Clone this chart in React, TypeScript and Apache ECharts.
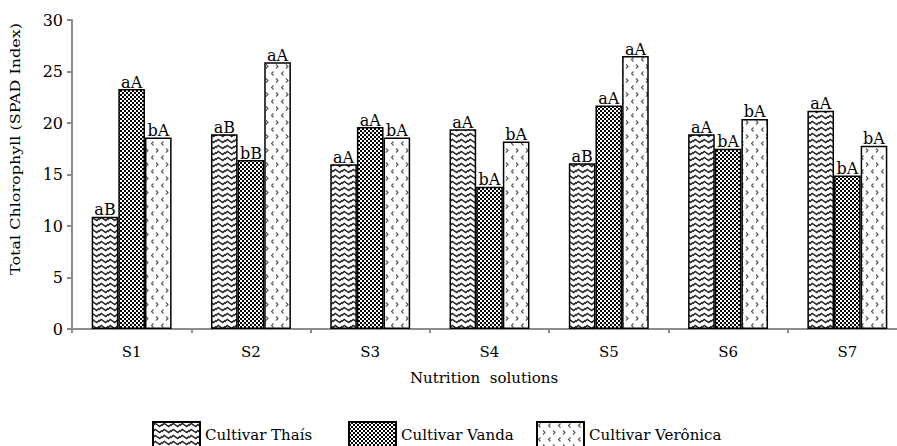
import React, { useEffect, useRef } from "react";
import * as echarts from "echarts";

const categories = ["S1", "S2", "S3", "S4", "S5", "S6", "S7"];
const seriesNames = ["Cultivar Thaís", "Cultivar Vanda", "Cultivar Verônica"];
const thais = [10.9, 18.9, 16.0, 19.4, 16.1, 18.9, 21.2];
const vanda = [23.3, 16.4, 19.6, 13.8, 21.7, 17.5, 14.9];
const veronica = [18.6, 25.9, 18.6, 18.2, 26.5, 20.4, 17.8];
const thaisLabels = ["aB", "aB", "aA", "aA", "aB", "aA", "aA"];
const vandaLabels = ["aA", "bB", "aA", "bA", "aA", "bA", "bA"];
const veronicaLabels = ["bA", "aA", "bA", "bA", "aA", "bA", "bA"];
const yTicks = [0, 5, 10, 15, 20, 25, 30];
const yTitle = "Total Chlorophyll (SPAD Index)";
const xTitle = "Nutrition  solutions";

const FONT = "DejaVu Serif";

function makeCanvas(w: number, h: number, draw: (ctx: CanvasRenderingContext2D) => void) {
  const c = document.createElement("canvas");
  c.width = w;
  c.height = h;
  const ctx = c.getContext("2d")!;
  draw(ctx);
  return c;
}

function wavePattern() {
  return makeCanvas(9, 6, (ctx) => {
    ctx.fillStyle = "#fff";
    ctx.fillRect(0, 0, 9, 6);
    ctx.strokeStyle = "#222";
    ctx.lineWidth = 1.4;
    ctx.beginPath();
    ctx.moveTo(-1, 4.5);
    ctx.lineTo(2.25, 1.5);
    ctx.lineTo(6.75, 4.5);
    ctx.lineTo(10, 1.5);
    ctx.stroke();
  });
}

function checkPattern() {
  return makeCanvas(4, 4, (ctx) => {
    ctx.fillStyle = "#000";
    ctx.fillRect(0, 0, 4, 4);
    ctx.fillStyle = "#fff";
    ctx.fillRect(0, 0, 2, 2);
    ctx.fillRect(2, 2, 2, 2);
  });
}

function chevronPattern() {
  return makeCanvas(10, 14, (ctx) => {
    ctx.fillStyle = "#fff";
    ctx.fillRect(0, 0, 10, 14);
    ctx.strokeStyle = "#555";
    ctx.lineWidth = 1.1;
    ctx.beginPath();
    ctx.moveTo(3.5, 1.5);
    ctx.lineTo(1.5, 3.5);
    ctx.lineTo(3.5, 5.5);
    ctx.moveTo(6, 8.5);
    ctx.lineTo(8, 10.5);
    ctx.lineTo(6, 12.5);
    ctx.stroke();
  });
}

export default function App() {
  const ref = useRef<HTMLDivElement>(null);

  useEffect(() => {
    document.body.style.margin = "0";
    if (!ref.current) return;
    const chart = echarts.init(ref.current, undefined, { renderer: "svg" });

    const patterns = [wavePattern(), checkPattern(), chevronPattern()];
    const values = [thais, vanda, veronica];
    const labels = [thaisLabels, vandaLabels, veronicaLabels];
    const legendLefts = [147, 343, 531];

    const series = seriesNames.map((name, i) => ({
      name,
      type: "bar",
      data: values[i],
      barGap: "0%",
      barCategoryGap: "33%",
      itemStyle: {
        color: { image: patterns[i], repeat: "repeat" },
        borderColor: "#000",
        borderWidth: 1.5,
      },
      label: {
        show: true,
        position: "top",
        distance: 1,
        color: "#000",
        fontFamily: FONT,
        fontSize: 16,
        backgroundColor: "#fff",
        padding: [0, 1, -2, 1],
        formatter: (p: any) => labels[i][p.dataIndex],
      },
    }));

    chart.setOption({
      animation: false,
      textStyle: { fontFamily: FONT },
      grid: {
        left: 72,
        right: -10,
        top: 20,
        bottom: 117,
        containLabel: false,
        outerBoundsMode: "none",
      },
      legend: seriesNames.map((n, i) => ({
        data: [n],
        left: legendLefts[i],
        top: 416,
        icon: "rect",
        itemWidth: 47,
        itemHeight: 26,
        textStyle: { fontFamily: FONT, fontSize: 15, color: "#000" },
      })),
      graphic: [
        {
          type: "text",
          x: 15,
          y: 149,
          rotation: Math.PI / 2,
          scaleY: 0.85,
          style: {
            text: yTitle,
            fontFamily: FONT,
            fontSize: 16,
            fill: "#000",
            align: "center",
            verticalAlign: "middle",
          },
        },
        {
          type: "text",
          x: 484,
          y: 378,
          style: {
            text: xTitle,
            fontFamily: FONT,
            fontSize: 15,
            fill: "#000",
            align: "center",
            verticalAlign: "middle",
          },
        },
      ],
      xAxis: {
        type: "category",
        data: categories,
        axisLine: { lineStyle: { color: "#8c8c8c", width: 2 } },
        axisTick: { show: true, length: 4, lineStyle: { color: "#8c8c8c", width: 2 } },
        axisLabel: { fontFamily: FONT, fontSize: 15, color: "#000", margin: 15 },
      },
      yAxis: {
        type: "value",
        min: yTicks[0],
        max: yTicks[yTicks.length - 1],
        interval: 5,
        axisLine: { show: true, lineStyle: { color: "#8c8c8c", width: 2 } },
        axisTick: { show: true, length: 5, lineStyle: { color: "#8c8c8c", width: 2 } },
        axisLabel: { fontFamily: FONT, fontSize: 16, color: "#000", margin: 9 },
        splitLine: { show: false },
      },
      series,
    });

    return () => chart.dispose();
  }, []);

  return <div ref={ref} style={{ width: 897, height: 446 }} />;
}
